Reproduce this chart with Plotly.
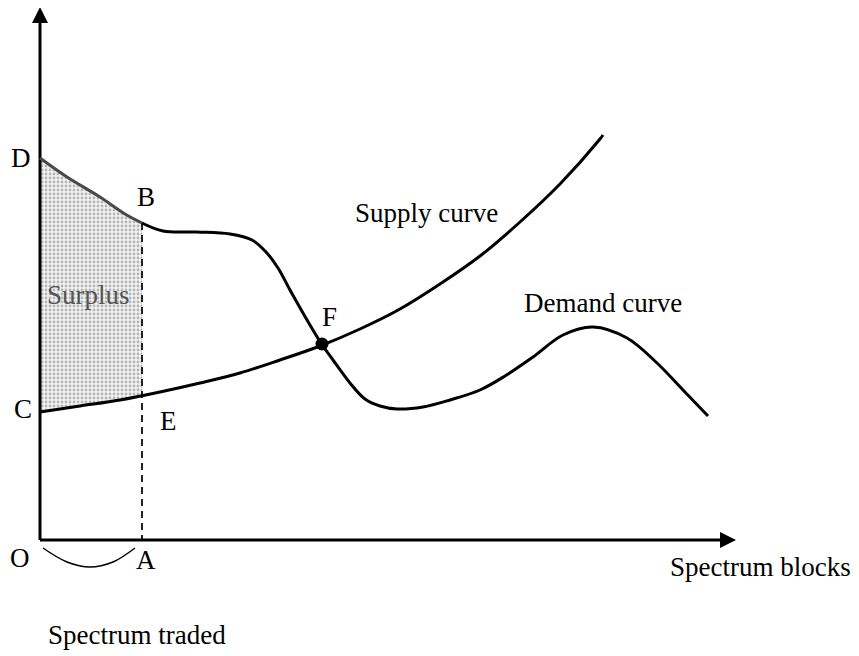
import numpy as np
import plotly.graph_objects as go

# ---- data (x = spectrum blocks, y = price) ----
demand_db_x = [0, 27, 60, 85, 102]
demand_db_y = [382, 363, 343, 326, 317]

demand_x = [102, 123, 157, 190, 212, 226, 238, 250, 263, 281, 293, 310, 325, 340, 357, 383,
            410, 440, 465, 493, 523, 553, 587, 617, 643, 668]
demand_y = [317, 309, 308, 306, 300, 288, 272, 250, 227, 197, 180, 157, 141, 134, 131, 133,
            140, 150, 164, 183, 205, 213, 202, 177, 150, 124]

supply_x = [0, 40, 80, 120, 160, 200, 240, 280, 320, 360, 400, 440, 480, 520, 560, 563]
supply_y = [128, 134, 140, 148, 157, 167, 180, 194, 211, 231, 256, 284, 318, 356, 401, 405]

traded_x = 102             # point A
eq_x, eq_y = [282], [196]  # point F

arc_x = [3, 27, 50, 73, 95]
arc_y = [-8, -22, -27, -22, -8]

x_axis_end = 696
y_axis_end = 533
head_len, head_half = 16, 8

labels = ["D", "B", "C", "E", "F", "O", "A"]
labels_x = [-19, 106, -17, 128, 289, -20, 106]
labels_y = [382, 343, 131, 119, 223, -18, -20]

FONT = "Liberation Serif, Times New Roman, serif"
FS = 27

fig = go.Figure()

# surplus area (between demand D-B and supply C-E)
s_top = float(np.interp(traded_x, supply_x, supply_y))
sx = [x for x in supply_x if x < traded_x] + [traded_x]
sy = supply_y[:len(sx) - 1] + [s_top]
fig.add_trace(go.Scatter(
    x=demand_db_x + sx[::-1], y=demand_db_y + sy[::-1],
    fill="toself", mode="none",
    fillcolor="rgba(255,255,255,0)",
    fillpattern=dict(shape=".", fgcolor="#7a7a7a", bgcolor="#f2f2f2", size=4, solidity=0.4),
    hoverinfo="skip"))

# dashed line B-A
fig.add_trace(go.Scatter(x=[traded_x, traded_x], y=[demand_db_y[-1], 0], mode="lines",
                         line=dict(color="#222", width=2, dash="7px,5px")))

# axes
fig.add_trace(go.Scatter(x=[0, 0], y=[0, y_axis_end - head_len], mode="lines",
                         line=dict(color="black", width=3)))
fig.add_trace(go.Scatter(x=[0, x_axis_end - head_len], y=[0, 0], mode="lines",
                         line=dict(color="black", width=3)))
fig.add_trace(go.Scatter(x=[-head_half, head_half, 0], y=[y_axis_end - head_len] * 2 + [y_axis_end],
                         fill="toself", mode="none", fillcolor="black"))
fig.add_trace(go.Scatter(x=[x_axis_end - head_len] * 2 + [x_axis_end], y=[-head_half, head_half, 0],
                         fill="toself", mode="none", fillcolor="black"))

# supply curve
fig.add_trace(go.Scatter(x=supply_x, y=supply_y, mode="lines",
                         line=dict(color="black", width=3, shape="spline", smoothing=1)))
# demand curve D-B (grey) and rest
fig.add_trace(go.Scatter(x=demand_db_x, y=demand_db_y, mode="lines",
                         line=dict(color="#4a4a4a", width=3, shape="spline", smoothing=1)))
fig.add_trace(go.Scatter(x=demand_x, y=demand_y, mode="lines",
                         line=dict(color="black", width=3, shape="spline", smoothing=1)))

# arc under O-A
fig.add_trace(go.Scatter(x=arc_x, y=arc_y, mode="lines",
                         line=dict(color="black", width=1.5, shape="spline")))

# equilibrium point F
fig.add_trace(go.Scatter(x=eq_x, y=eq_y, mode="markers",
                         marker=dict(color="black", size=13)))

for t, x, y in zip(labels, labels_x, labels_y):
    fig.add_annotation(x=x, y=y, text=t, showarrow=False, xanchor="center", yanchor="middle",
                       font=dict(family=FONT, size=FS, color="black"))

fig.add_annotation(x=48, y=245, text="Surplus", showarrow=False, xanchor="center", yanchor="middle",
                   font=dict(family=FONT, size=FS, color="#555"))
fig.add_annotation(x=386, y=327, text="Supply curve", showarrow=False, xanchor="center", yanchor="middle",
                   font=dict(family=FONT, size=FS, color="black"))
fig.add_annotation(x=563, y=237, text="Demand curve", showarrow=False, xanchor="center", yanchor="middle",
                   font=dict(family=FONT, size=FS, color="black"))
fig.add_annotation(x=720, y=-27, text="Spectrum blocks", showarrow=False, xanchor="center", yanchor="middle",
                   font=dict(family=FONT, size=FS, color="black"))
fig.add_annotation(x=97, y=-95, text="Spectrum traded", showarrow=False, xanchor="center", yanchor="middle",
                   font=dict(family=FONT, size=FS, color="black"))

# page body has an 8px margin, so the ranges are shifted by 8px
fig.update_layout(
    width=859, height=656, margin=dict(l=0, r=0, t=0, b=0),
    paper_bgcolor="white", plot_bgcolor="white", showlegend=False,
    xaxis=dict(range=[-32, 827], visible=False, fixedrange=True),
    yaxis=dict(range=[-124, 532], visible=False, fixedrange=True),
)

fig.write_html("out.html")
